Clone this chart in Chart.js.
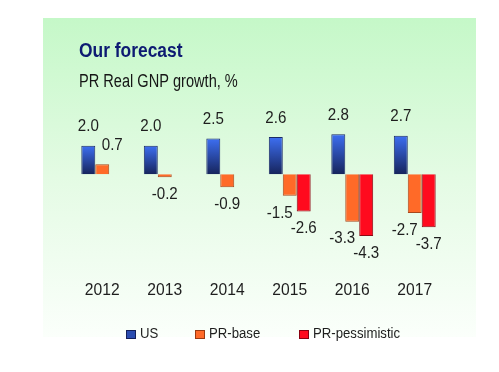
<!DOCTYPE html>
<html>
<head>
<meta charset="utf-8">
<script src="https://cdn.jsdelivr.net/npm/chart.js@4"></script>
<style>
  body { margin: 0; background: #fff; }
  #wrap { width: 499px; height: 372px; }
</style>
</head>
<body>
<div id="wrap"><canvas id="growthChart" width="499" height="372"></canvas></div>
<script>
// data
const years = ['2012', '2013', '2014', '2015', '2016', '2017'];
const usGrowth = [2.0, 2.0, 2.5, 2.6, 2.8, 2.7];
const prBase = [0.7, -0.2, -0.9, -1.5, -3.3, -2.7];
const prPessimistic = [null, null, null, -2.6, -4.3, -3.7];
const seriesNames = ['US', 'PR-base', 'PR-pessimistic'];

const FONT = "'Liberation Sans', Arial, sans-serif";

// the original uses a narrow face, so squeeze the text sideways
const narrowText = (c, text, x, y, squeeze) => {
  c.save();
  c.translate(x, y);
  c.scale(squeeze, 1);
  c.fillText(text, 0, 0);
  c.restore();
};

// blue bars: bright at the top, dark at the zero line
const usFill = (ctx) => {
  const { chart, dataIndex } = ctx;
  const y = chart.scales.y;
  if (!chart.chartArea || !y) return '#2a4cb0';
  const top = y.getPixelForValue(usGrowth[dataIndex]);
  const base = y.getPixelForValue(0);
  const g = chart.ctx.createLinearGradient(0, top, 0, base);
  g.addColorStop(0, '#3d6ff2');
  g.addColorStop(1, '#16245c');
  return g;
};

// green panel and titles behind everything
const panel = {
  id: 'panel',
  beforeDraw(chart) {
    const c = chart.ctx;
    c.save();
    c.fillStyle = '#ffffff';
    c.fillRect(0, 0, chart.width, chart.height);
    const g = c.createLinearGradient(0, 18, 0, 337);
    g.addColorStop(0, '#c5f8c8');
    g.addColorStop(0.5, '#e4fbe4');
    g.addColorStop(1, '#fbfffb');
    c.fillStyle = g;
    c.fillRect(43, 18, 433, 319);
    c.textBaseline = 'alphabetic';
    c.textAlign = 'left';
    c.fillStyle = '#0d1a72';
    c.font = `bold 20px ${FONT}`;
    narrowText(c, 'Our forecast', 79, 57, 0.87);
    c.fillStyle = '#161616';
    c.font = `18px ${FONT}`;
    narrowText(c, 'PR Real GNP growth, %', 79, 87, 0.81);
    c.restore();
  },
};

// value labels, year labels and the legend row
const labels = {
  id: 'labels',
  afterDatasetsDraw(chart) {
    const c = chart.ctx;
    c.save();
    c.fillStyle = '#1e1e1e';
    c.textAlign = 'center';
    c.textBaseline = 'middle';
    c.font = `17px ${FONT}`;
    chart.data.datasets.forEach((ds, di) => {
      const meta = chart.getDatasetMeta(di);
      meta.data.forEach((bar, i) => {
        const v = ds.data[i];
        if (v === null) return;
        let x = bar.x;
        let y;
        if (v >= 0) {
          y = bar.y - 19;
          if (di === 1) x += 10;
        } else {
          y = bar.y + 17;
          if (di === 1 && prPessimistic[i] !== null) x -= 10;
        }
        narrowText(c, v.toFixed(1), x, y, 0.89);
      });
    });

    // category labels under the plot
    const xs = chart.scales.x;
    c.textBaseline = 'alphabetic';
    c.font = `17px ${FONT}`;
    years.forEach((yr, i) => {
      narrowText(c, yr, xs.getPixelForValue(i), 295, 0.92);
    });

    // legend
    const items = [
      { x: 126, fill: '#2a4cb0', stroke: '#14205a' },
      { x: 195, fill: '#ff6a28', stroke: '#9a3a10' },
      { x: 299, fill: '#ff0a1e', stroke: '#8a0010' },
    ];
    c.font = `15.5px ${FONT}`;
    c.textAlign = 'left';
    items.forEach((it, k) => {
      c.fillStyle = it.fill;
      c.fillRect(it.x, 330, 10, 9);
      c.strokeStyle = it.stroke;
      c.lineWidth = 1;
      c.strokeRect(it.x + 0.5, 330.5, 9, 8);
      c.fillStyle = '#1e1e1e';
      narrowText(c, seriesNames[k], it.x + 14, 338, 0.85);
    });
    c.restore();
  },
};

const growthChart = new Chart(document.querySelector('#growthChart').getContext('2d'), {
  type: 'bar',
  data: {
    labels: years,
    datasets: [{
      label: seriesNames[0],
      data: usGrowth,
      backgroundColor: usFill,
      borderColor: '#1a2a66',
      borderWidth: 1,
    }, {
      label: seriesNames[1],
      data: prBase,
      backgroundColor: '#ff6a28',
      borderColor: '#a8481c',
      borderWidth: 1,
    }, {
      label: seriesNames[2],
      data: prPessimistic,
      backgroundColor: '#ff0a1e',
      borderColor: '#8c0a14',
      borderWidth: 1,
    }],
  },
  options: {
    responsive: false,
    animation: false,
    layout: { padding: { left: 71, right: 53, top: 117, bottom: 126 } },
    datasets: { bar: { categoryPercentage: 0.67, barPercentage: 1 } },
    plugins: {
      legend: { display: false },
      tooltip: { enabled: false },
    },
    scales: {
      x: { display: false },
      y: { display: false, min: -5, max: 4 },
    },
  },
  plugins: [panel, labels],
});
</script>
</body>
</html>
